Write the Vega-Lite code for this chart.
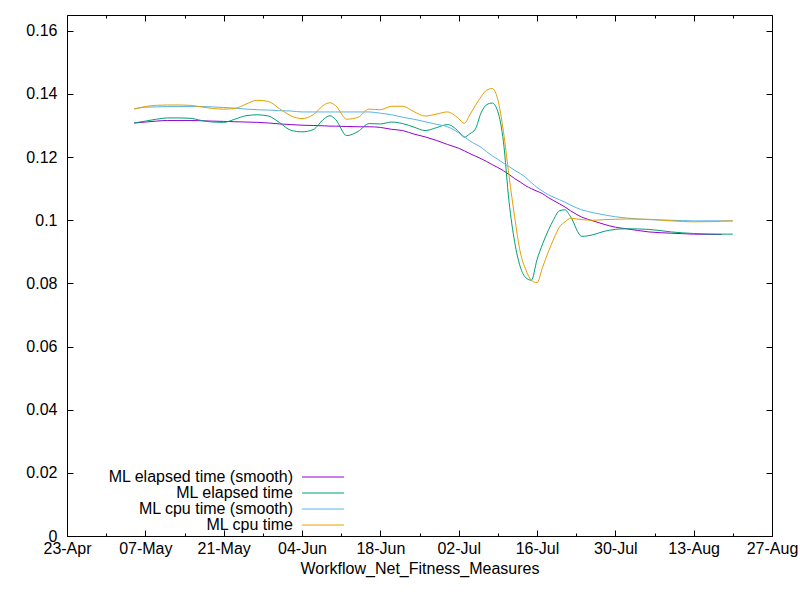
{
  "$schema": "https://vega.github.io/schema/vega-lite/v6.json",
  "width": 705,
  "height": 521,
  "autosize": "none",
  "padding": {"left": 67, "top": 15, "right": 28, "bottom": 64},
  "background": "white",
  "datasets": {
    "names": [
      {"key": "elapsed_smooth", "label": "ML elapsed time (smooth)"},
      {"key": "elapsed", "label": "ML elapsed time"},
      {"key": "cpu_smooth", "label": "ML cpu time (smooth)"},
      {"key": "cpu", "label": "ML cpu time"}
    ],
    "runs": [
      {"date": "2018-05-05", "elapsed_smooth": 0.1308, "elapsed": 0.1308, "cpu_smooth": 0.1353, "cpu": 0.1352},
      {"date": "2018-05-07", "elapsed_smooth": 0.1311, "elapsed": 0.1314, "cpu_smooth": 0.1358, "cpu": 0.1360},
      {"date": "2018-05-09", "elapsed_smooth": 0.1314, "elapsed": 0.1320, "cpu_smooth": 0.1359, "cpu": 0.1364},
      {"date": "2018-05-11", "elapsed_smooth": 0.1316, "elapsed": 0.1324, "cpu_smooth": 0.1360, "cpu": 0.1365},
      {"date": "2018-05-13", "elapsed_smooth": 0.1316, "elapsed": 0.1324, "cpu_smooth": 0.1360, "cpu": 0.1365},
      {"date": "2018-05-15", "elapsed_smooth": 0.1316, "elapsed": 0.1323, "cpu_smooth": 0.1360, "cpu": 0.1364},
      {"date": "2018-05-17", "elapsed_smooth": 0.1315, "elapsed": 0.1316, "cpu_smooth": 0.1360, "cpu": 0.1359},
      {"date": "2018-05-19", "elapsed_smooth": 0.1314, "elapsed": 0.1311, "cpu_smooth": 0.1359, "cpu": 0.1354},
      {"date": "2018-05-21", "elapsed_smooth": 0.1313, "elapsed": 0.1310, "cpu_smooth": 0.1357, "cpu": 0.1352},
      {"date": "2018-05-23", "elapsed_smooth": 0.1312, "elapsed": 0.1320, "cpu_smooth": 0.1355, "cpu": 0.1354},
      {"date": "2018-05-25", "elapsed_smooth": 0.1311, "elapsed": 0.1331, "cpu_smooth": 0.1352, "cpu": 0.1368},
      {"date": "2018-05-27", "elapsed_smooth": 0.1310, "elapsed": 0.1334, "cpu_smooth": 0.1350, "cpu": 0.1380},
      {"date": "2018-05-29", "elapsed_smooth": 0.1308, "elapsed": 0.1330, "cpu_smooth": 0.1349, "cpu": 0.1376},
      {"date": "2018-05-31", "elapsed_smooth": 0.1305, "elapsed": 0.1309, "cpu_smooth": 0.1347, "cpu": 0.1353},
      {"date": "2018-06-02", "elapsed_smooth": 0.1303, "elapsed": 0.1285, "cpu_smooth": 0.1346, "cpu": 0.1331},
      {"date": "2018-06-04", "elapsed_smooth": 0.1301, "elapsed": 0.1280, "cpu_smooth": 0.1343, "cpu": 0.1322},
      {"date": "2018-06-06", "elapsed_smooth": 0.1300, "elapsed": 0.1287, "cpu_smooth": 0.1343, "cpu": 0.1334},
      {"date": "2018-06-08", "elapsed_smooth": 0.1299, "elapsed": 0.1322, "cpu_smooth": 0.1343, "cpu": 0.1366},
      {"date": "2018-06-09", "elapsed_smooth": 0.1298, "elapsed": 0.1331, "cpu_smooth": 0.1343, "cpu": 0.1372},
      {"date": "2018-06-10", "elapsed_smooth": 0.1298, "elapsed": 0.1319, "cpu_smooth": 0.1343, "cpu": 0.1363},
      {"date": "2018-06-12", "elapsed_smooth": 0.1297, "elapsed": 0.1268, "cpu_smooth": 0.1343, "cpu": 0.1320},
      {"date": "2018-06-14", "elapsed_smooth": 0.1296, "elapsed": 0.1281, "cpu_smooth": 0.1343, "cpu": 0.1326},
      {"date": "2018-06-16", "elapsed_smooth": 0.1296, "elapsed": 0.1306, "cpu_smooth": 0.1343, "cpu": 0.1352},
      {"date": "2018-06-18", "elapsed_smooth": 0.1294, "elapsed": 0.1305, "cpu_smooth": 0.1339, "cpu": 0.1350},
      {"date": "2018-06-20", "elapsed_smooth": 0.1288, "elapsed": 0.1311, "cpu_smooth": 0.1334, "cpu": 0.1361},
      {"date": "2018-06-22", "elapsed_smooth": 0.1284, "elapsed": 0.1306, "cpu_smooth": 0.1326, "cpu": 0.1361},
      {"date": "2018-06-24", "elapsed_smooth": 0.1273, "elapsed": 0.1295, "cpu_smooth": 0.1320, "cpu": 0.1344},
      {"date": "2018-06-26", "elapsed_smooth": 0.1264, "elapsed": 0.1284, "cpu_smooth": 0.1312, "cpu": 0.1330},
      {"date": "2018-06-28", "elapsed_smooth": 0.1253, "elapsed": 0.1293, "cpu_smooth": 0.1304, "cpu": 0.1336},
      {"date": "2018-06-30", "elapsed_smooth": 0.1240, "elapsed": 0.1303, "cpu_smooth": 0.1296, "cpu": 0.1343},
      {"date": "2018-07-02", "elapsed_smooth": 0.1228, "elapsed": 0.1281, "cpu_smooth": 0.1277, "cpu": 0.1322},
      {"date": "2018-07-03", "elapsed_smooth": 0.1220, "elapsed": 0.1263, "cpu_smooth": 0.1265, "cpu": 0.1307},
      {"date": "2018-07-04", "elapsed_smooth": 0.1211, "elapsed": 0.1274, "cpu_smooth": 0.1251, "cpu": 0.1334},
      {"date": "2018-07-05", "elapsed_smooth": 0.1203, "elapsed": 0.1289, "cpu_smooth": 0.1241, "cpu": 0.1364},
      {"date": "2018-07-06", "elapsed_smooth": 0.1195, "elapsed": 0.1340, "cpu_smooth": 0.1231, "cpu": 0.1391},
      {"date": "2018-07-07", "elapsed_smooth": 0.1186, "elapsed": 0.1366, "cpu_smooth": 0.1217, "cpu": 0.1412},
      {"date": "2018-07-08", "elapsed_smooth": 0.1176, "elapsed": 0.1371, "cpu_smooth": 0.1204, "cpu": 0.1417},
      {"date": "2018-07-09", "elapsed_smooth": 0.1167, "elapsed": 0.1344, "cpu_smooth": 0.1193, "cpu": 0.1382},
      {"date": "2018-07-10", "elapsed_smooth": 0.1157, "elapsed": 0.1249, "cpu_smooth": 0.1181, "cpu": 0.1281},
      {"date": "2018-07-11", "elapsed_smooth": 0.1145, "elapsed": 0.1059, "cpu_smooth": 0.1170, "cpu": 0.1141},
      {"date": "2018-07-12", "elapsed_smooth": 0.1132, "elapsed": 0.0932, "cpu_smooth": 0.1158, "cpu": 0.1011},
      {"date": "2018-07-13", "elapsed_smooth": 0.1121, "elapsed": 0.0853, "cpu_smooth": 0.1148, "cpu": 0.0900},
      {"date": "2018-07-14", "elapsed_smooth": 0.1109, "elapsed": 0.0818, "cpu_smooth": 0.1135, "cpu": 0.0843},
      {"date": "2018-07-15", "elapsed_smooth": 0.1100, "elapsed": 0.0810, "cpu_smooth": 0.1119, "cpu": 0.0810},
      {"date": "2018-07-16", "elapsed_smooth": 0.1092, "elapsed": 0.0875, "cpu_smooth": 0.1104, "cpu": 0.0802},
      {"date": "2018-07-17", "elapsed_smooth": 0.1084, "elapsed": 0.0925, "cpu_smooth": 0.1092, "cpu": 0.0851},
      {"date": "2018-07-18", "elapsed_smooth": 0.1072, "elapsed": 0.0967, "cpu_smooth": 0.1081, "cpu": 0.0899},
      {"date": "2018-07-19", "elapsed_smooth": 0.1062, "elapsed": 0.1003, "cpu_smooth": 0.1073, "cpu": 0.0941},
      {"date": "2018-07-20", "elapsed_smooth": 0.1052, "elapsed": 0.1030, "cpu_smooth": 0.1065, "cpu": 0.0978},
      {"date": "2018-07-21", "elapsed_smooth": 0.1042, "elapsed": 0.1033, "cpu_smooth": 0.1057, "cpu": 0.0995},
      {"date": "2018-07-22", "elapsed_smooth": 0.1030, "elapsed": 0.1011, "cpu_smooth": 0.1048, "cpu": 0.1006},
      {"date": "2018-07-24", "elapsed_smooth": 0.1010, "elapsed": 0.0949, "cpu_smooth": 0.1033, "cpu": 0.1002},
      {"date": "2018-07-26", "elapsed_smooth": 0.0998, "elapsed": 0.0954, "cpu_smooth": 0.1024, "cpu": 0.1000},
      {"date": "2018-07-28", "elapsed_smooth": 0.0987, "elapsed": 0.0965, "cpu_smooth": 0.1017, "cpu": 0.1002},
      {"date": "2018-07-30", "elapsed_smooth": 0.0978, "elapsed": 0.0971, "cpu_smooth": 0.1011, "cpu": 0.1003},
      {"date": "2018-08-01", "elapsed_smooth": 0.0973, "elapsed": 0.0973, "cpu_smooth": 0.1007, "cpu": 0.1004},
      {"date": "2018-08-05", "elapsed_smooth": 0.0963, "elapsed": 0.0971, "cpu_smooth": 0.1002, "cpu": 0.1003},
      {"date": "2018-08-09", "elapsed_smooth": 0.0959, "elapsed": 0.0963, "cpu_smooth": 0.1000, "cpu": 0.0998},
      {"date": "2018-08-13", "elapsed_smooth": 0.0956, "elapsed": 0.0958, "cpu_smooth": 0.0998, "cpu": 0.0995},
      {"date": "2018-08-17", "elapsed_smooth": 0.0955, "elapsed": 0.0956, "cpu_smooth": 0.0998, "cpu": 0.0996},
      {"date": "2018-08-18", "elapsed_smooth": 0.0955, "elapsed": 0.0956, "cpu_smooth": 0.0998, "cpu": 0.0997},
      {"date": "2018-08-20", "elapsed_smooth": null, "elapsed": 0.0956, "cpu_smooth": 0.0998, "cpu": 0.0998}
    ]
  },
  "data": {"name": "runs"},
  "transform": [
    {"fold": ["elapsed_smooth", "elapsed", "cpu_smooth", "cpu"], "as": ["key", "value"]},
    {"lookup": "key", "from": {"data": {"name": "names"}, "key": "key", "fields": ["label"]}}
  ],
  "layer": [
    {
      "mark": {"type": "line", "strokeWidth": 1, "interpolate": "monotone"},
      "encoding": {
        "x": {
          "field": "date",
          "type": "temporal",
          "scale": {
            "type": "utc",
            "domain": [
              {"year": 2018, "month": 4, "date": 23, "utc": true},
              {"year": 2018, "month": 8, "date": 27, "utc": true}
            ],
            "nice": false
          },
          "axis": {
            "orient": "bottom",
            "title": "Workflow_Net_Fitness_Measures",
            "format": "%d-%b",
            "values": [
              {"year": 2018, "month": 4, "date": 23, "utc": true},
              {"year": 2018, "month": 5, "date": 7, "utc": true},
              {"year": 2018, "month": 5, "date": 21, "utc": true},
              {"year": 2018, "month": 6, "date": 4, "utc": true},
              {"year": 2018, "month": 6, "date": 18, "utc": true},
              {"year": 2018, "month": 7, "date": 2, "utc": true},
              {"year": 2018, "month": 7, "date": 16, "utc": true},
              {"year": 2018, "month": 7, "date": 30, "utc": true},
              {"year": 2018, "month": 8, "date": 13, "utc": true},
              {"year": 2018, "month": 8, "date": 27, "utc": true}
            ],
            "tickSize": -6,
            "labelPadding": 10,
            "titlePadding": 4
          }
        },
        "y": {
          "field": "value",
          "type": "quantitative",
          "scale": {"domain": [0, 0.165], "nice": false, "zero": true},
          "axis": {
            "orient": "left",
            "title": null,
            "values": [0, 0.02, 0.04, 0.06, 0.08, 0.1, 0.12, 0.14, 0.16],
            "format": "~g",
            "tickSize": -6,
            "labelPadding": 16
          }
        },
        "color": {
          "field": "label",
          "type": "nominal",
          "scale": {
            "domain": ["ML elapsed time (smooth)", "ML elapsed time", "ML cpu time (smooth)", "ML cpu time"],
            "range": ["#9400d3", "#009e73", "#56b4e9", "#e69f00"]
          },
          "legend": {
            "title": null,
            "orient": "none",
            "legendX": 248,
            "legendY": 454,
            "direction": "vertical",
            "symbolType": "M-3,0H3",
            "symbolSize": 196,
            "symbolStrokeWidth": 1,
            "rowPadding": -3,
            "padding": 0,
            "labelAlign": "right",
            "labelBaseline": "middle",
            "labelOffset": -38,
            "labelLimit": 400
          }
        }
      }
    },
    {
      "mark": {"type": "line", "opacity": 0},
      "encoding": {
        "x": {
          "field": "date",
          "type": "temporal",
          "axis": {
            "orient": "top",
            "title": null,
            "labels": false,
            "values": [
              {"year": 2018, "month": 4, "date": 23, "utc": true},
              {"year": 2018, "month": 5, "date": 7, "utc": true},
              {"year": 2018, "month": 5, "date": 21, "utc": true},
              {"year": 2018, "month": 6, "date": 4, "utc": true},
              {"year": 2018, "month": 6, "date": 18, "utc": true},
              {"year": 2018, "month": 7, "date": 2, "utc": true},
              {"year": 2018, "month": 7, "date": 16, "utc": true},
              {"year": 2018, "month": 7, "date": 30, "utc": true},
              {"year": 2018, "month": 8, "date": 13, "utc": true},
              {"year": 2018, "month": 8, "date": 27, "utc": true}
            ],
            "tickSize": -6
          }
        },
        "y": {
          "field": "value",
          "type": "quantitative",
          "axis": {
            "orient": "right",
            "title": null,
            "labels": false,
            "values": [0, 0.02, 0.04, 0.06, 0.08, 0.1, 0.12, 0.14, 0.16],
            "tickSize": -6
          }
        }
      }
    },
    {
      "mark": {"type": "line", "opacity": 0},
      "encoding": {
        "x": {
          "field": "date",
          "type": "temporal",
          "axis": {
            "orient": "bottom",
            "title": null,
            "labels": false,
            "values": [
              {"year": 2018, "month": 4, "date": 30, "utc": true},
              {"year": 2018, "month": 5, "date": 14, "utc": true},
              {"year": 2018, "month": 5, "date": 28, "utc": true},
              {"year": 2018, "month": 6, "date": 11, "utc": true},
              {"year": 2018, "month": 6, "date": 25, "utc": true},
              {"year": 2018, "month": 7, "date": 9, "utc": true},
              {"year": 2018, "month": 7, "date": 23, "utc": true},
              {"year": 2018, "month": 8, "date": 6, "utc": true},
              {"year": 2018, "month": 8, "date": 20, "utc": true}
            ],
            "tickSize": -3
          }
        },
        "y": {"field": "value", "type": "quantitative", "axis": null}
      }
    },
    {
      "mark": {"type": "line", "opacity": 0},
      "encoding": {
        "x": {
          "field": "date",
          "type": "temporal",
          "axis": {
            "orient": "top",
            "title": null,
            "labels": false,
            "values": [
              {"year": 2018, "month": 4, "date": 30, "utc": true},
              {"year": 2018, "month": 5, "date": 14, "utc": true},
              {"year": 2018, "month": 5, "date": 28, "utc": true},
              {"year": 2018, "month": 6, "date": 11, "utc": true},
              {"year": 2018, "month": 6, "date": 25, "utc": true},
              {"year": 2018, "month": 7, "date": 9, "utc": true},
              {"year": 2018, "month": 7, "date": 23, "utc": true},
              {"year": 2018, "month": 8, "date": 6, "utc": true},
              {"year": 2018, "month": 8, "date": 20, "utc": true}
            ],
            "tickSize": -3
          }
        },
        "y": {"field": "value", "type": "quantitative", "axis": null}
      }
    }
  ],
  "resolve": {"axis": {"x": "independent", "y": "independent"}},
  "config": {
    "font": "Liberation Sans",
    "view": {"stroke": "black", "strokeWidth": 1},
    "axis": {
      "grid": false,
      "domain": false,
      "tickColor": "black",
      "tickWidth": 1,
      "labelColor": "black",
      "labelFont": "Liberation Sans",
      "labelFontSize": 16,
      "labelFlush": false,
      "labelOverlap": false,
      "labelBound": false,
      "titleColor": "black",
      "titleFont": "Liberation Sans",
      "titleFontSize": 16,
      "titleFontWeight": "normal"
    },
    "legend": {
      "labelColor": "black",
      "labelFont": "Liberation Sans",
      "labelFontSize": 16
    }
  }
}
